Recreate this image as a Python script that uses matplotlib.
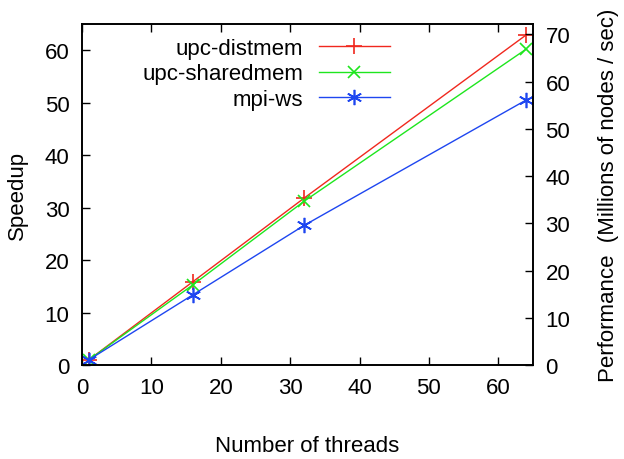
import matplotlib
matplotlib.use("Agg")
import matplotlib.pyplot as plt

plt.rcParams['font.family'] = ['Liberation Sans', 'DejaVu Sans']
plt.rcParams['font.size'] = 16

threads = [1, 16, 32, 64]
upc_distmem = [1, 15.9, 31.8, 62.9]
upc_sharedmem = [1, 15.3, 31.2, 60.2]
mpi_ws = [1, 13.4, 26.6, 50.5]

fig = plt.figure(figsize=(6.24, 4.6), dpi=100)
ax = fig.add_axes([82 / 624, 94 / 460, 451 / 624, 341 / 460])

ax.plot(threads, upc_distmem, color='#f0281e', marker='+', ms=11, mew=1.2, lw=1.0, label='upc-distmem')
ax.plot(threads, upc_sharedmem, color='#1ee61e', marker='x', ms=9, mew=1.2, lw=1.0, label='upc-sharedmem')
ax.plot(threads, mpi_ws, color='#1e46f0', marker=(6, 2, 0), ms=11, mew=1.2, lw=1.0, label='mpi-ws')

ax.set_xlim(0, 65)
ax.set_ylim(0, 65)
ax.set_xticks(range(0, 61, 10))
ax.set_yticks(range(0, 61, 10))
ax.tick_params(direction='in', length=6, width=1, top=True, right=False, pad=9)
ax.set_xlabel('Number of threads', labelpad=26)
ax.set_ylabel('Speedup', labelpad=12)

ax2 = ax.twinx()
ax2.set_ylim(0, 72.2)
ax2.set_yticks(range(0, 71, 10))
ax2.tick_params(direction='in', length=6, width=1, pad=9)
ax2.set_ylabel('Performance  (Millions of nodes / sec)', labelpad=20)

for a in (ax, ax2):
    for s in a.spines.values():
        s.set_linewidth(1.2)

leg = ax.legend(loc='upper right', bbox_to_anchor=(390 / 624, (460 - 39) / 460),
                bbox_transform=fig.transFigure, frameon=False,
                markerfirst=False, handlelength=3.2, handletextpad=0.7,
                labelspacing=0.2, borderaxespad=0, borderpad=0)
leg._legend_box.align = 'right'
for t in leg.get_texts():
    t.set_ha('right')

fig.savefig('out.png', dpi=100)
